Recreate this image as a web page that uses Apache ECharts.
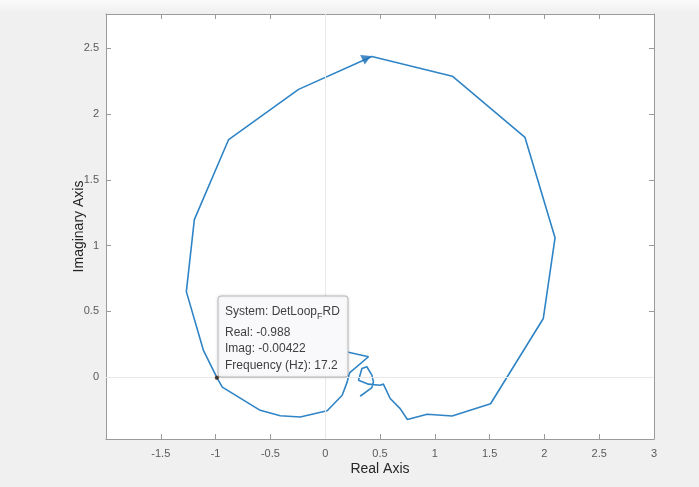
<!DOCTYPE html>
<html lang="en">
<head>
    <meta charset="UTF-8">
    <title>Nyquist</title>
    <script src="https://cdn.jsdelivr.net/npm/echarts/dist/echarts.min.js"></script>
    <style>
        html, body { margin: 0; padding: 0; background: #f0f0f0; }
        #chart1 { width: 699px; height: 487px; }
    </style>
</head>
<body>
<div id="chart1"></div>
<script>
    // nyquist curve (real, imag)
    var realPart = [0.10, 0.395, 0.222, 0.20, 0.155, 0.018, -0.228, -0.41, -0.593, -0.939, -0.988,
        -1.112, -1.267, -1.194, -0.881, -0.243, 0.426, 1.16, 1.823, 2.097, 1.99, 1.509, 1.158,
        0.93, 0.75, 0.684, 0.593, 0.531, 0.501, 0.395, 0.304, 0.335, 0.38, 0.426, 0.44, 0.426, 0.319];
    var imagPart = [0.21, 0.155, 0.033, -0.038, -0.137, -0.255, -0.303, -0.293, -0.252, -0.076, -0.00422,
        0.206, 0.65, 1.197, 1.806, 2.187, 2.437, 2.287, 1.822, 1.059, 0.446, -0.202, -0.295,
        -0.282, -0.322, -0.239, -0.162, -0.053, -0.061, -0.053, -0.023, 0.066, 0.079, 0.015, -0.036, -0.079, -0.145];
    var arrowPoint = [0.365, 2.411];
    var tipPoint = [-0.988, -0.00422];
    var xTicks = {min: -2, max: 3, step: 0.5};
    var yRange = {min: -0.47, max: 2.76};

    var curve = realPart.map(function (v, i) { return [v, imagPart[i]]; });

    var font = "'Liberation Sans', Arial, sans-serif";
    var axisGray = '#9a9a9a';
    var lineBlue = '#2f84c6';

    var myChart = echarts.init(document.getElementById('chart1'));

    function xAx(pos) {
        return {
            type: 'value', position: pos,
            min: xTicks.min, max: xTicks.max, interval: xTicks.step,
            name: pos === 'bottom' ? 'Real Axis' : '',
            nameLocation: 'middle', nameGap: 23, nameMoveOverlap: false,
            nameTextStyle: {color: '#262626', fontSize: 14, fontFamily: font},
            axisLine: {show: true, onZero: false, lineStyle: {color: axisGray, width: 1}},
            axisTick: {show: true, inside: true, length: 5, lineStyle: {color: axisGray}},
            axisLabel: {show: pos === 'bottom', showMinLabel: false, color: '#5a5a5a', fontSize: 11, fontFamily: font, margin: 9},
            splitLine: {show: false}
        };
    }
    function yAx(pos) {
        return {
            type: 'value', position: pos,
            min: yRange.min, max: yRange.max, splitNumber: 7, minInterval: 0.5, maxInterval: 0.5,
            name: pos === 'left' ? 'Imaginary Axis' : '',
            nameLocation: 'middle', nameGap: 20, nameMoveOverlap: false,
            nameTextStyle: {color: '#262626', fontSize: 14, fontFamily: font},
            axisLine: {show: true, onZero: false, lineStyle: {color: axisGray, width: 1}},
            axisTick: {show: true, inside: true, length: 5, lineStyle: {color: axisGray}},
            axisLabel: {show: pos === 'left', showMinLabel: false, showMaxLabel: false, color: '#5a5a5a', fontSize: 11, fontFamily: font, margin: 7},
            splitLine: {show: false}
        };
    }

    option1 = {
        backgroundColor: '#f0f0f0',
        animation: false,
        grid: {
            left: 106, right: 45, top: 14, bottom: 48,
            show: true, backgroundColor: '#ffffff', borderWidth: 0
        },
        xAxis: [xAx('bottom'), xAx('top')],
        yAxis: [yAx('left'), yAx('right')],
        graphic: [
            {
                type: 'rect', z: -10, silent: true,
                shape: {x: 0, y: 0, width: 699, height: 12},
                style: {fill: new echarts.graphic.LinearGradient(0, 0, 0, 1, [
                    {offset: 0, color: '#fbfbfb'}, {offset: 1, color: '#f0f0f0'}])}
            },
            {
                type: 'group', z: 50, x: 218, y: 296,
                children: [
                    {
                        type: 'rect', z: 50,
                        shape: {x: 0, y: 0, width: 130, height: 81, r: 3},
                        style: {fill: '#f9f9fb', stroke: '#b8b8b8', lineWidth: 1,
                            shadowBlur: 3, shadowColor: 'rgba(0,0,0,0.12)'}
                    },
                    {
                        type: 'text', z: 51, x: 7, y: 8,
                        style: {
                            text: '{a|System: DetLoop}{s|F}{a|RD}',
                            rich: {
                                a: {fontSize: 12, fontFamily: font, fill: '#404040', lineHeight: 16},
                                s: {fontSize: 9, fontFamily: font, fill: '#404040', lineHeight: 16, padding: [9, 0, 0, 0]}
                            }
                        }
                    },
                    {
                        type: 'text', z: 51, x: 7, y: 28,
                        style: {
                            text: 'Real: -0.988\nImag: -0.00422\nFrequency (Hz): 17.2',
                            font: '12px ' + font, fill: '#404040', lineHeight: 16.5
                        }
                    }
                ]
            }
        ],
        series: [
            {
                type: 'line',
                data: curve,
                showSymbol: false,
                symbol: 'none',
                lineStyle: {color: lineBlue, width: 1.6},
                z: 3,
                markLine: {
                    silent: true, symbol: 'none', animation: false,
                    label: {show: false},
                    lineStyle: {color: '#e8e8e8', width: 1, type: 'solid'},
                    data: [{xAxis: 0}, {yAxis: 0}]
                }
            },
            {
                type: 'scatter',
                data: [arrowPoint],
                symbol: 'triangle',
                symbolSize: [11, 9],
                symbolRotate: 175,
                itemStyle: {color: '#1a6fb8'},
                z: 4
            },
            {
                type: 'scatter',
                data: [tipPoint],
                symbolSize: 4,
                itemStyle: {color: '#111', borderColor: '#a05030', borderWidth: 0.5},
                zlevel: 1
            }
        ]
    };
    myChart.setOption(option1);
</script>
</body>
</html>
